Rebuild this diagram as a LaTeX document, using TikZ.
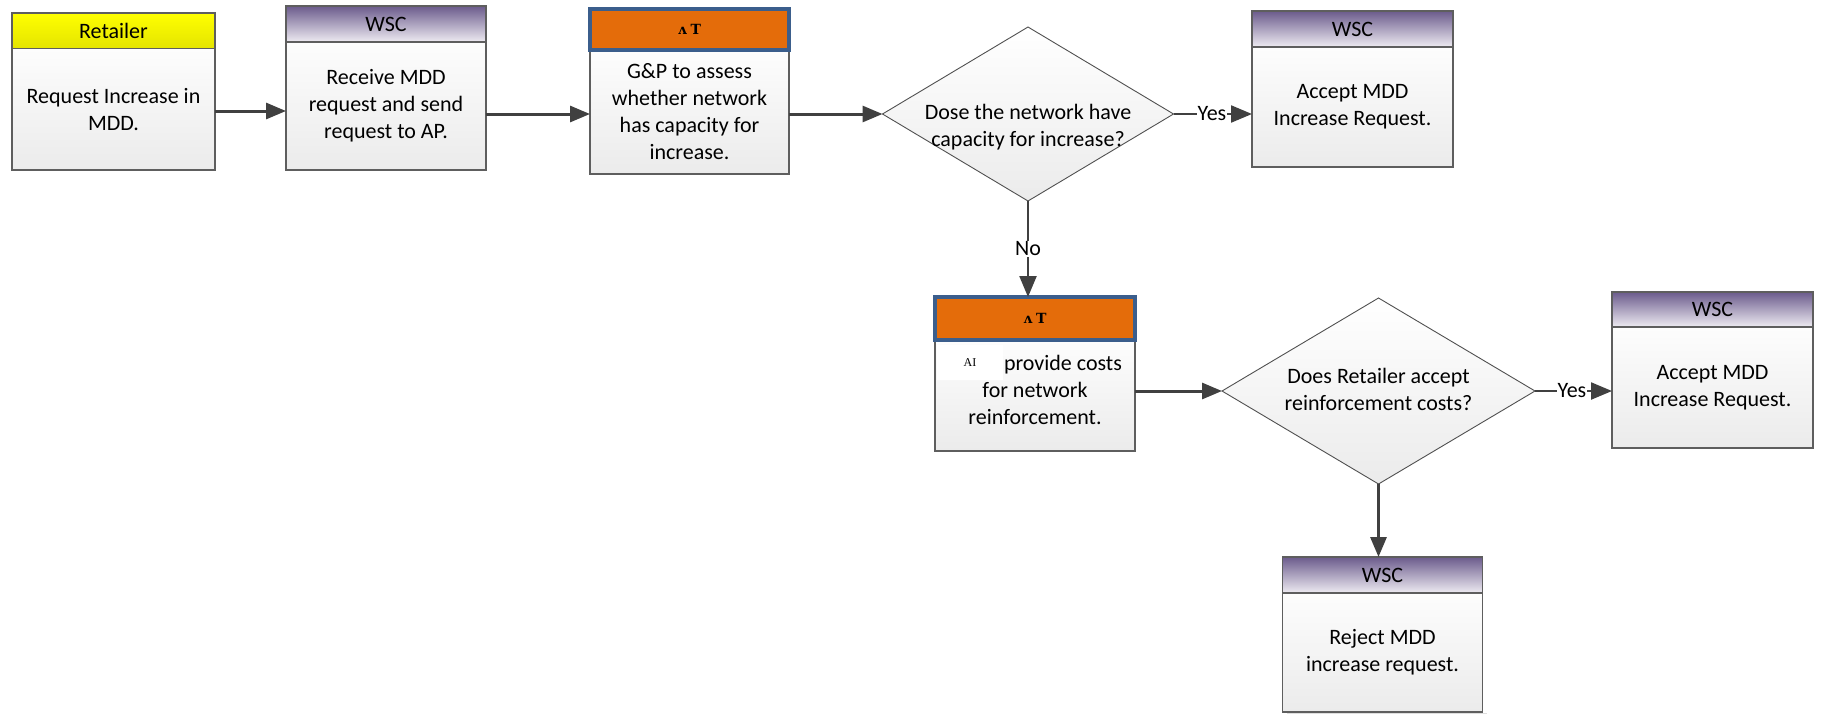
\documentclass[tikz,border=0pt]{standalone}
\usepackage{fontspec}
\setmainfont{Carlito}
\newfontfamily\ipafont{DejaVu Serif}
\newfontfamily\smserif{Liberation Serif}
\usetikzlibrary{arrows.meta,shapes.geometric}
\definecolor{bordergray}{HTML}{5E5E5E}
\definecolor{bodytop}{HTML}{FDFDFD}
\definecolor{bodybot}{HTML}{EBEBEB}
\definecolor{wsctop}{HTML}{6B5B8C}
\definecolor{wscbot}{HTML}{EEEBF2}
\definecolor{ylwtop}{HTML}{FFFF00}
\definecolor{ylwbot}{HTML}{E4E400}
\definecolor{orangef}{HTML}{E46C0A}
\definecolor{blueb}{HTML}{3B5E8C}
\definecolor{arrowc}{HTML}{404040}
\definecolor{diamb}{HTML}{505050}
\definecolor{shadowc}{HTML}{DEDEDE}
\pgfdeclarelayer{bg}
\pgfsetlayers{bg,main}
\begin{document}
\begin{tikzpicture}[x=1pt,y=-1pt,
  txt/.style={font=\fontsize{22}{27}\selectfont, align=center, text=black},
  boxbase/.style={rectangle, inner sep=0pt, outer sep=0pt, txt},
  bodyb/.style={boxbase, draw=bordergray, line width=1.4pt, top color=bodytop, bottom color=bodybot},
  wschead/.style={boxbase, draw=bordergray, line width=1.4pt, top color=wsctop, bottom color=wscbot},
  ylwhead/.style={boxbase, draw=bordergray, line width=1.4pt, top color=ylwtop, bottom color=ylwbot},
  orhead/.style={boxbase, draw=blueb, line width=4pt, fill=orangef, font=\ipafont\bfseries\fontsize{14}{16}\selectfont},
  decision/.style={shape=diamond, inner sep=0pt, outer sep=0pt, draw=diamb, line width=0.9pt, top color=white, bottom color=bodybot},
  thickarrow/.style={draw=arrowc, line width=3pt, -{Triangle[length=20pt,width=16pt]}, fill=arrowc},
  thinarrow/.style={draw=arrowc, line width=2.2pt, -{Triangle[length=21pt,width=17pt]}, fill=arrowc},
  lbl/.style={txt, fill=white, inner sep=1pt}
]
\useasboundingbox (0,0) rectangle (1823,713);
\fill[white] (0,0) rectangle (1823,713);

% Retailer
\node[ylwhead, minimum width=203pt, minimum height=35.5pt] (rh) at (113.5,30.75) {Retailer};
\node[bodyb, minimum width=203pt, minimum height=121.5pt] (rb) at (113.5,109.25) {Request Increase in\\MDD.};

% WSC 1
\node[wschead, minimum width=200pt, minimum height=36pt] (w1h) at (386,24) {WSC};
\node[bodyb, minimum width=200pt, minimum height=128pt] (w1b) at (386,106) {Receive MDD\\request and send\\request to AP.};

% Orange 1
\node[bodyb, minimum width=199pt, minimum height=124pt] (o1b) at (689.5,112) {G\&P to assess\\whether network\\has capacity for\\increase.};
\node[orhead, minimum width=199pt, minimum height=41pt] (o1h) at (689.5,29.5) {ʌ\;T};

% Decision 1
\node[decision, minimum width=291pt, minimum height=174pt] (d1) at (1028,114) {};
\node[txt] (d1t) at (1028,127) {Dose the network have\\capacity for increase?};

% WSC 2
\node[wschead, minimum width=201pt, minimum height=36pt] (w2h) at (1352.5,29) {WSC};
\node[bodyb, minimum width=201pt, minimum height=120pt] (w2b) at (1352.5,107) {Accept MDD\\Increase Request.};

% Orange 2
\node[bodyb, minimum width=200pt, minimum height=111pt] (o2b) at (1035,395.5) {};
\node[txt] (o2t) at (1035,390) {\hspace*{56pt}provide costs\\for network\\reinforcement.};
\node[orhead, minimum width=200pt, minimum height=43pt] (o2h) at (1035,318.5) {ʌ\;T};
\node[rectangle, fill=white, inner sep=0pt, minimum width=66pt, minimum height=35pt, font=\smserif\fontsize{12}{14}\selectfont] (ai) at (970,362.5) {AI};

% Decision 2
\node[decision, minimum width=313pt, minimum height=186pt] (d2) at (1378.5,391) {};
\node[txt] (d2t) at (1378.5,389) {Does Retailer accept\\reinforcement costs?};

% WSC 3
\node[wschead, minimum width=201pt, minimum height=35pt] (w3h) at (1712.5,309.5) {WSC};
\node[bodyb, minimum width=201pt, minimum height=121pt] (w3b) at (1712.5,387.5) {Accept MDD\\Increase Request.};

% WSC 4
\node[wschead, minimum width=200pt, minimum height=36pt] (w4h) at (1382.5,575) {WSC};
\node[bodyb, minimum width=200pt, minimum height=119pt] (w4b) at (1382.5,652.5) {Reject MDD\\increase request.};

% shadows
\begin{pgfonlayer}{bg}
  \foreach \h/\b in {rh/rb, w1h/w1b, o1h/o1b, w2h/w2b, o2h/o2b, w3h/w3b, w4h/w4b}{
    \fill[shadowc] ([shift={(4,4)}]\h.north west) rectangle ([shift={(4,4)}]\b.south east);
  }
  \foreach \d in {d1,d2}{
    \fill[shadowc!70] ([shift={(6,6)}]\d.north) -- ([shift={(6,6)}]\d.east) -- ([shift={(6,6)}]\d.south) -- ([shift={(6,6)}]\d.west) -- cycle;
  }
\end{pgfonlayer}

% connectors
\draw[thickarrow] (rb.east |- 0,111) -- (w1b.west |- 0,111);
\draw[thickarrow] (w1b.east |- 0,114) -- (o1b.west |- 0,114);
\draw[thickarrow] (o1b.east |- d1.west) -- (d1.west);
\draw[thinarrow] (d1.east) -- node[lbl, pos=0.49] {Yes} (w2b.west |- d1.east);
\draw[thinarrow] (d1.south) -- node[lbl, pos=0.5] {No} (d1.south |- o2h.north);
\draw[thickarrow] (o2b.east |- d2.west) -- (d2.west);
\draw[thinarrow] (d2.east) -- node[lbl, pos=0.48] {Yes} (w3b.west |- d2.east);
\draw[thickarrow] (d2.south) -- (d2.south |- w4h.north);
\end{tikzpicture}
\end{document}
